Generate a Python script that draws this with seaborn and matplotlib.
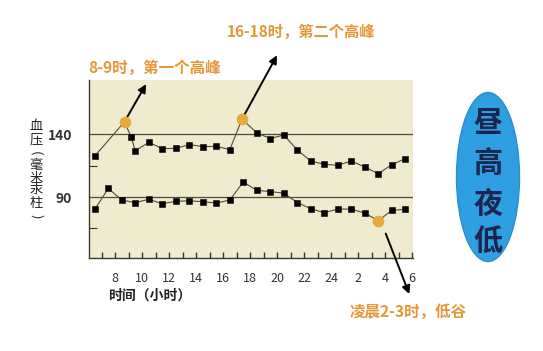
import numpy as np
import pandas as pd
import seaborn as sb
from matplotlib import pyplot as plt
from matplotlib.patches import Ellipse

# hours on a continuous axis (25 = 1 am next day, 30 = 6 am)
hour_sys = [6.5, 8.7, 9.2, 9.5, 10.5, 11.5, 12.5, 13.5, 14.5, 15.5, 16.5, 17.4,
            18.5, 19.5, 20.5, 21.5, 22.5, 23.5, 24.5, 25.5, 26.5, 27.5, 28.5, 29.5]
systolic = [122.7, 150, 137.6, 126.9, 133.6, 128.6, 128.8, 131.8, 130.2, 130.4, 127.8, 152,
            141.2, 136.6, 139.5, 127.5, 118.7, 116.1, 115.3, 118.7, 113.9, 108.6, 115.8, 120.6]
hour_dia = [6.5, 7.5, 8.5, 9.5, 10.5, 11.5, 12.5, 13.5, 14.5, 15.5, 16.5, 17.5,
            18.5, 19.5, 20.5, 21.5, 22.5, 23.5, 24.5, 25.5, 26.5, 27.5, 28.5, 29.5]
diastolic = [80.2, 96.9, 87.6, 85.5, 88.2, 84.7, 86.6, 87.0, 86.3, 85.2, 87.6, 102,
             95.3, 94.4, 93.0, 85.6, 80.7, 77.5, 80.4, 80.4, 77.2, 71.1, 79.4, 80.2]
peak_sys = [1, 11]   # index of highlighted points
low_dia = [21]

x_ticks = [8, 10, 12, 14, 16, 18, 20, 22, 24, 26, 28, 30]
x_labels = ["8", "10", "12", "14", "16", "18", "20", "22", "24", "2", "4", "6"]
hour_marks = list(range(7, 31))

sys_df = pd.DataFrame({"hour": hour_sys, "bp": systolic})
dia_df = pd.DataFrame({"hour": hour_dia, "bp": diastolic})
sys_df["hl"] = [i in peak_sys for i in range(len(sys_df))]
dia_df["hl"] = [i in low_dia for i in range(len(dia_df))]

sb.set_style("white")
plt.rcParams['font.family'] = ['Noto Sans CJK SC', 'DejaVu Sans']

orange = "#E8A83A"
text_orange = "#E8963A"
line_col = "#4e4c3a"

fig = plt.figure(figsize=(5.43, 3.51), dpi=100)
ax = fig.add_axes([89/543, 93/351, 324/543, 178/351])
ax.set_facecolor("#EFEBCE")

# reference lines
ax.axhline(140, color="#4f4d35", lw=0.9, zorder=1)
ax.axhline(90, color="#4f4d35", lw=0.9, zorder=1)

# hour marks along the bottom edge, pointing inward
ax.vlines(hour_marks, 41.4, 46.0, color="#333333", lw=1, zorder=6, clip_on=False)

for df in [sys_df, dia_df]:
    sb.lineplot(x="hour", y="bp", data=df, ax=ax, color=line_col, lw=0.8, zorder=2)
    sb.scatterplot(x="hour", y="bp", data=df[~df["hl"]], ax=ax, marker="s", s=22,
                   color="black", edgecolor="black", zorder=3)
    sb.scatterplot(x="hour", y="bp", data=df[df["hl"]], ax=ax, marker="o", s=60,
                   color=orange, edgecolor=orange, zorder=4)

ax.set_xlim(6.07, 30.07)
ax.set_ylim(41.4, 183.3)
ax.set_xticks(x_ticks)
ax.set_xticklabels(x_labels, fontsize=9, color="#333333")
ax.set_yticks([90, 140])
ax.set_yticklabels(["90", "140"], fontsize=10, fontweight="bold", color="#333333")
ax.set_yticks([65, 115], minor=True)
ax.tick_params(axis="x", which="major", length=0, pad=10)
ax.tick_params(axis="y", which="major", length=0, pad=12)
ax.tick_params(axis="y", which="minor", left=True, direction="in", length=6, width=0.8, color="#333333")
ax.set_xlabel("")
ax.set_ylabel("")
for s in ["top", "right"]:
    ax.spines[s].set_visible(False)
for s in ["left", "bottom"]:
    ax.spines[s].set_color("#3a3a2a")
    ax.spines[s].set_linewidth(1)

# arrows
arrow = dict(arrowstyle="-|>", color="black", lw=1.4, mutation_scale=12, shrinkA=4, shrinkB=0)
ax.annotate("", xy=(10.3, 180), xytext=(8.7, 150), arrowprops=arrow, annotation_clip=False)
ax.annotate("", xy=(20.0, 203), xytext=(17.4, 152), arrowprops=arrow, annotation_clip=False)
ax.annotate("", xy=(29.8, 12.6), xytext=(27.9, 65), arrowprops=arrow, annotation_clip=False)

# annotations
fig.text(88/543, 1 - 68/351, "8-9时，第一个高峰", color=text_orange, fontsize=11.2,
         fontweight="bold", va="center", ha="left")
fig.text(375/543, 1 - 32/351, "16-18时，第二个高峰", color=text_orange, fontsize=11,
         fontweight="bold", va="center", ha="right")
fig.text(350/543, 1 - 312/351, "凌晨2-3时，低谷", color=text_orange, fontsize=11.2,
         fontweight="bold", va="center", ha="left")
fig.text(108/543, 1 - 296/351, "时间（小时）", color="#222222", fontsize=10,
         fontweight="bold", va="center", ha="left")

# vertical y label, one character at a time
for ch, yy in zip("血压(毫米汞柱)", [127, 140, 153, 165, 178, 190, 203, 216]):
    rot = -90 if ch in "()" else 0
    fig.text(36/543, 1 - yy/351, ch, color="#222222", fontsize=9.5,
             va="center", ha="center", rotation=rot)

# blue badge
ell = Ellipse((488/543, 1 - 177/351), 63/543, 169/351, transform=fig.transFigure,
              facecolor="#2E9FE0", edgecolor="#2a8fcf", lw=1)
fig.add_artist(ell)
for ch, yy in zip("昼高夜低", [123, 164, 204, 242]):
    fig.text(488/543, 1 - yy/351, ch, color="#1b2550", fontsize=21, fontweight="bold",
             ha="center", va="center")

plt.savefig("out.png", dpi=100)
plt.close()
